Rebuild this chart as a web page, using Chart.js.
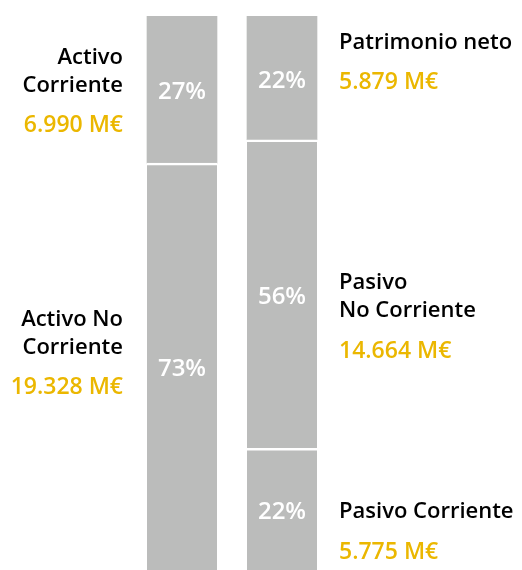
<!DOCTYPE html>
<html>
<head>
<meta charset="utf-8">
<script src="https://cdn.jsdelivr.net/npm/chart.js@4"></script>
<style>
html,body{margin:0;padding:0;background:#fff;}
#wrap{position:relative;width:522px;height:570px;}
</style>
</head>
<body>
<div id="wrap"><canvas id="c" width="522" height="570"></canvas></div>
<script>
// Data
const categories = ['Activo', 'Pasivo'];
const segmentNames = ['Activo No Corriente', 'Activo Corriente', 'Pasivo Corriente', 'Pasivo No Corriente', 'Patrimonio neto'];
const segmentCategory = [0, 0, 1, 1, 1];
const segmentValues = [19328, 6990, 5775, 14664, 5879]; // M€
const segmentLabelLines = [['Activo No', 'Corriente'], ['Activo', 'Corriente'], ['Pasivo Corriente'], ['Pasivo', 'No Corriente'], ['Patrimonio neto']];
const valueLabels = ['19.328 M€', '6.990 M€', '5.775 M€', '14.664 M€', '5.879 M€'];

const GRAY = '#bbbcbb';
const YELLOW = '#ebb700';
const FONT = '"Open Sans", sans-serif';

const total = segmentValues.filter((v, i) => segmentCategory[i] === 0).reduce((a, b) => a + b, 0);

// label vertical offsets relative to segment centre (layout only)
const labelOffset = [-13, 2, 23, 23, -15];

const datasets = segmentValues.map((v, i) => {
  const data = categories.map((c, k) => k === segmentCategory[i] ? v : null);
  const isTop = segmentNames[i] === 'Activo Corriente' || segmentNames[i] === 'Patrimonio neto';
  return {
    label: segmentNames[i],
    data: data,
    backgroundColor: GRAY,
    borderColor: '#ffffff',
    borderWidth: {top: isTop ? 0 : 2.5, bottom: 0, left: 0, right: 0},
    borderSkipped: false,
    barThickness: 70
  };
});

const labelPlugin = {
  id: 'segLabels',
  afterDatasetsDraw(chart) {
    const ctx = chart.ctx;
    ctx.save();
    chart.data.datasets.forEach((ds, i) => {
      const meta = chart.getDatasetMeta(i);
      const el = meta.data[segmentCategory[i]];
      if (!el) return;
      const top = Math.min(el.y, el.base);
      const bot = Math.max(el.y, el.base);
      const mid = (top + bot) / 2;
      // percentage
      const pct = Math.round(segmentValues[i] / total * 100) + '%';
      ctx.fillStyle = '#ffffff';
      ctx.font = '600 24px ' + FONT;
      ctx.textAlign = 'center';
      ctx.textBaseline = 'middle';
      ctx.fillText(pct, el.x, mid + 3);
      // side labels
      const left = segmentCategory[i] === 0;
      const lx = left ? el.x - 59 : el.x + 57;
      ctx.textAlign = left ? 'right' : 'left';
      const lines = segmentLabelLines[i];
      const lineH = 28;
      const gapVal = 40;
      const blockH = (lines.length - 1) * lineH + gapVal;
      let y = mid + labelOffset[i] - blockH / 2;
      ctx.fillStyle = '#000000';
      ctx.font = '600 22px ' + FONT;
      lines.forEach((t, k) => ctx.fillText(t, lx, y + k * lineH));
      ctx.fillStyle = YELLOW;
      ctx.font = '600 23px ' + FONT;
      ctx.fillText(valueLabels[i], lx, y + (lines.length - 1) * lineH + gapVal);
    });
    ctx.restore();
  }
};

new Chart(document.getElementById('c'), {
  type: 'bar',
  data: { labels: categories, datasets: datasets },
  options: {
    responsive: false,
    animation: false,
    layout: { padding: { top: 16, bottom: 0, left: 132, right: 190 } },
    plugins: { legend: { display: false }, tooltip: { enabled: false } },
    scales: {
      x: { stacked: true, display: false, offset: true },
      y: { stacked: true, display: false, min: 0, max: total }
    }
  },
  plugins: [labelPlugin]
});
</script>
</body>
</html>
